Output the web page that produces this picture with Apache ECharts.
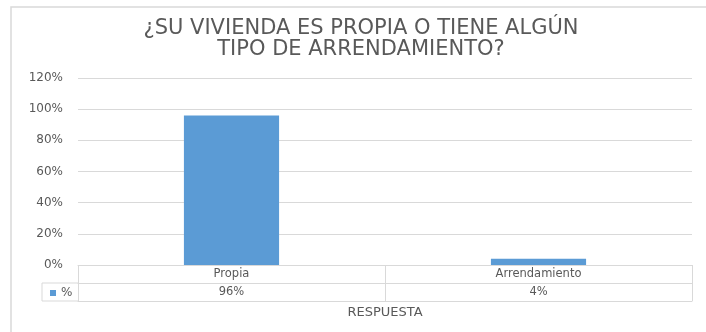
<!DOCTYPE html>
<html>
<head>
<meta charset="utf-8">
<script src="https://cdn.jsdelivr.net/npm/echarts@6/dist/echarts.min.js"></script>
<style>
  html, body { margin: 0; padding: 0; background: #fff; }
  #chart { width: 706px; height: 332px; }
</style>
</head>
<body>
<div id="chart"></div>
<script>
// datos del gráfico
const categorias = ['Propia', 'Arrendamiento'];
const valores = [0.96, 0.04];
const etiquetasValor = ['96%', '4%'];
const nombreSerie = '%';

const gris = '#595959';
const linea = '#d9d9d9';
const fuente = 'DejaVu Sans';

const chart = echarts.init(document.getElementById('chart'));

const option = {
  animation: false,
  title: {
    text: '¿SU VIVIENDA ES PROPIA O TIENE ALGÚN\nTIPO DE ARRENDAMIENTO?',
    left: 361,
    textAlign: 'center',
    top: 18,
    padding: 0,
    textStyle: {
      fontFamily: fuente,
      fontSize: 21,
      fontWeight: 'normal',
      color: gris,
      lineHeight: 21
    }
  },
  legend: {
    data: [nombreSerie],
    left: 45,
    top: 282,
    icon: 'rect',
    itemWidth: 6,
    itemHeight: 6,
    itemGap: 4,
    textStyle: { fontFamily: fuente, fontSize: 12, color: gris }
  },
  grid: { left: 78, right: 14, top: 78, bottom: 67 },
  xAxis: [
    {
      type: 'category',
      data: categorias,
      axisLine: { lineStyle: { color: linea } },
      axisTick: { show: true, length: 36, lineStyle: { color: linea } },
      axisLabel: { margin: 3, fontFamily: fuente, fontSize: 11.5, color: gris }
    },
    {
      type: 'category',
      data: categorias,
      position: 'bottom',
      offset: 18,
      axisLine: { lineStyle: { color: linea } },
      axisTick: { show: false },
      axisLabel: {
        margin: 3,
        fontFamily: fuente,
        fontSize: 11.5,
        color: gris,
        formatter: (v, i) => etiquetasValor[i]
      }
    },
    {
      type: 'category',
      data: categorias,
      position: 'bottom',
      offset: 36,
      axisLine: { lineStyle: { color: linea } },
      axisTick: { show: false },
      axisLabel: { show: false },
      name: 'RESPUESTA',
      nameLocation: 'middle',
      nameGap: 5,
      nameTextStyle: { fontFamily: fuente, fontSize: 13, color: gris }
    }
  ],
  yAxis: {
    type: 'value',
    min: 0,
    max: 1.2,
    interval: 0.2,
    axisLine: { show: false },
    axisTick: { show: false },
    splitLine: { lineStyle: { color: linea } },
    axisLabel: {
      margin: 15,
      fontFamily: fuente,
      fontSize: 12,
      color: gris,
      formatter: v => Math.round(v * 100) + '%'
    }
  },
  series: [{
    name: nombreSerie,
    type: 'bar',
    data: valores,
    barWidth: '31%',
    itemStyle: { color: '#5b9bd5' }
  }],
  graphic: [
    // marco exterior
    {
      type: 'rect',
      shape: { x: 11, y: 7, width: 720, height: 340 },
      style: { fill: 'none', stroke: linea, lineWidth: 1.5 },
      silent: true
    },
    // celda de la leyenda en la tabla
    {
      type: 'polyline',
      shape: { points: [[78, 283], [42, 283], [42, 301], [78, 301]] },
      style: { fill: 'none', stroke: linea, lineWidth: 1 },
      silent: true
    }
  ]
};

chart.setOption(option);
window.addEventListener('resize', () => chart.resize());
</script>
</body>
</html>
